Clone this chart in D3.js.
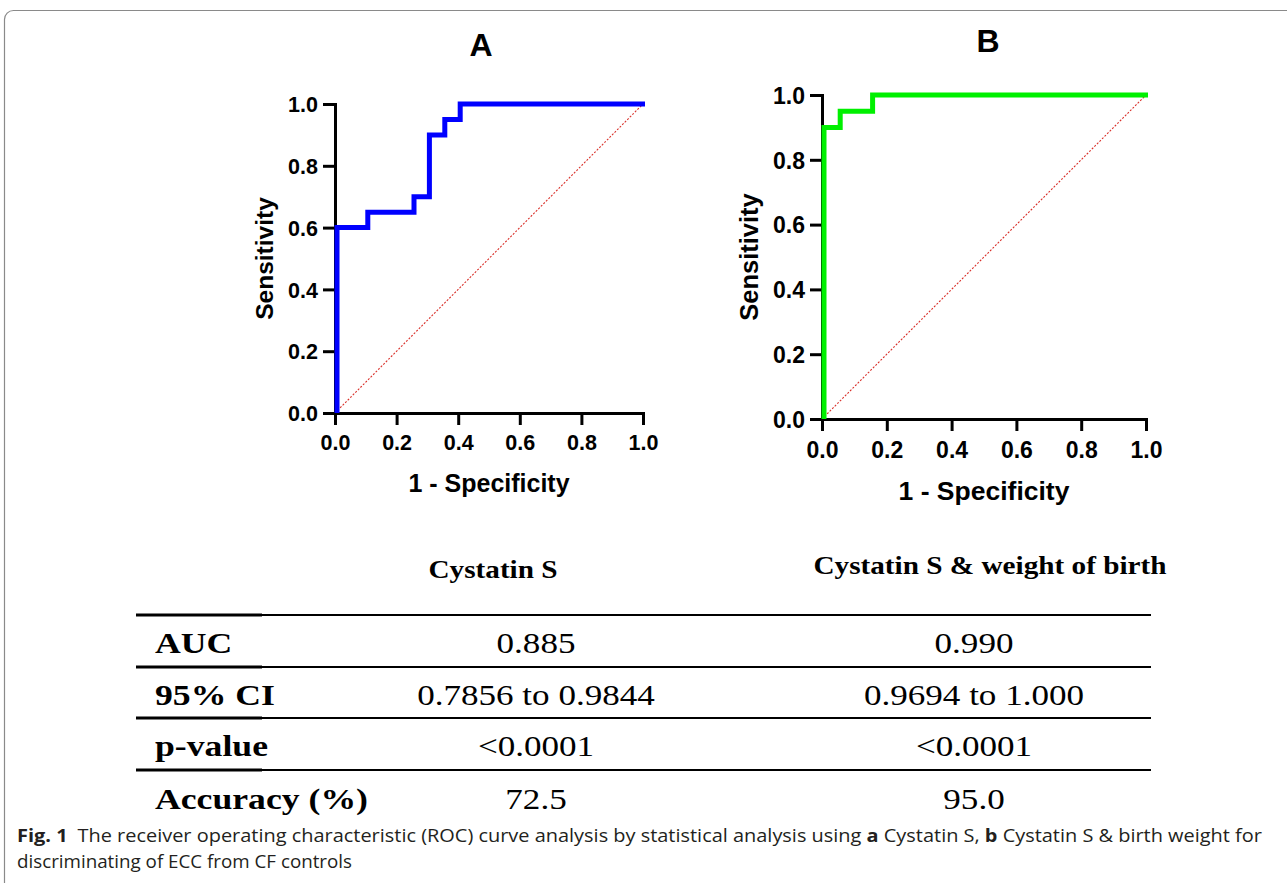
<!DOCTYPE html>
<html>
<head>
<meta charset="utf-8">
<script src="https://cdn.jsdelivr.net/npm/d3@7"></script>
<style>
  body { margin: 0; background: #fff; }
  svg { display: block; }
</style>
</head>
<body>
<svg id="fig" width="1287" height="883"></svg>
<script>
// ROC curve A: Cystatin S
const rocA_fpr = [0, 0, 0.1, 0.1, 0.25, 0.25, 0.3, 0.3, 0.35, 0.35, 0.4, 0.4, 1.0];
const rocA_tpr = [0, 0.6, 0.6, 0.65, 0.65, 0.7, 0.7, 0.9, 0.9, 0.95, 0.95, 1.0, 1.0];

// ROC curve B: Cystatin S & weight of birth
const rocB_fpr = [0, 0, 0.05, 0.05, 0.15, 0.15, 1.0];
const rocB_tpr = [0, 0.9, 0.9, 0.95, 0.95, 1.0, 1.0];

const tickValues = [0, 0.2, 0.4, 0.6, 0.8, 1.0];

// table
const tableHeaders = ["Cystatin S", "Cystatin S & weight of birth"];
const rowLabels = ["AUC", "95% CI", "p-value", "Accuracy (%)"];
const colA = ["0.885", "0.7856 to 0.9844", "<0.0001", "72.5"];
const colB = ["0.990", "0.9694 to 1.000", "<0.0001", "95.0"];

const svg = d3.select('#fig');

// figure frame
svg.append('rect')
  .attr('x', 4.5).attr('y', 10.5)
  .attr('width', 1300).attr('height', 900)
  .attr('rx', 9)
  .attr('fill', 'none')
  .attr('stroke', '#8a8a8a')
  .attr('stroke-width', 1.2);

function drawRoc(cfg) {
  const x = d3.scaleLinear().domain([0, 1]).range([cfg.left, cfg.right]);
  const y = d3.scaleLinear().domain([0, 1]).range([cfg.bottom, cfg.top]);
  const g = svg.append('g');

  // diagonal reference
  g.append('path')
    .datum([[0, 0], [1, 1]])
    .attr('d', d3.line().x(d => x(d[0])).y(d => y(d[1])))
    .attr('fill', 'none')
    .attr('stroke', '#d9302a')
    .attr('stroke-width', 1.1)
    .attr('stroke-dasharray', '2,1.6');

  const xAxis = g.append('g')
    .attr('transform', `translate(0, ${cfg.bottom})`)
    .call(d3.axisBottom(x).tickValues(tickValues).tickFormat(d3.format('.1f'))
      .tickSize(cfg.tick).tickPadding(cfg.xpad).tickSizeOuter(0));
  const yAxis = g.append('g')
    .attr('transform', `translate(${cfg.left}, 0)`)
    .call(d3.axisLeft(y).tickValues(tickValues).tickFormat(d3.format('.1f'))
      .tickSize(cfg.tick).tickPadding(cfg.ypad).tickSizeOuter(0));

  [xAxis, yAxis].forEach(a => {
    a.select('.domain').attr('stroke', '#000').attr('stroke-width', 3)
      .attr('stroke-linecap', 'square');
    a.selectAll('.tick line').attr('stroke', '#000').attr('stroke-width', 3);
    a.selectAll('.tick text')
      .attr('fill', '#000')
      .style('font-family', '"Liberation Sans", Arial, sans-serif')
      .style('font-weight', 'bold')
      .style('font-size', cfg.tickFont + 'px');
  });
  yAxis.selectAll('.tick text').attr('dy', '0.36em');

  // ROC curve
  const pts = cfg.fpr.map((f, i) => [f, cfg.tpr[i]]);
  g.append('path')
    .datum(pts)
    .attr('d', d3.line().x(d => x(d[0]) + 2).y(d => y(d[1])))
    .attr('fill', 'none')
    .attr('stroke', cfg.color)
    .attr('stroke-width', 5)
    .attr('stroke-linejoin', 'miter');

  // titles
  g.append('text')
    .attr('x', cfg.labelX).attr('y', cfg.labelY)
    .attr('text-anchor', 'middle')
    .style('font-family', '"Liberation Sans", Arial, sans-serif')
    .style('font-weight', 'bold')
    .style('font-size', '32px')
    .text(cfg.label);

  g.append('text')
    .attr('x', (cfg.left + cfg.right) / 2)
    .attr('y', cfg.xtY)
    .attr('text-anchor', 'middle')
    .style('font-family', '"Liberation Sans", Arial, sans-serif')
    .style('font-weight', 'bold')
    .style('font-size', cfg.titleFont + 'px')
    .text('1 - Specificity');

  g.append('text')
    .attr('transform', `translate(${cfg.ytX}, ${(cfg.top + cfg.bottom) / 2}) rotate(-90)`)
    .attr('text-anchor', 'middle')
    .style('font-family', '"Liberation Sans", Arial, sans-serif')
    .style('font-weight', 'bold')
    .style('font-size', cfg.ytFont + 'px')
    .text('Sensitivity');
}

drawRoc({
  fpr: rocA_fpr, tpr: rocA_tpr, color: '#0000ff', label: 'A',
  left: 335, right: 643, top: 104, bottom: 413,
  tick: 12, xpad: 10, ypad: 5, tickFont: 21.5, titleFont: 25, ytFont: 24.5,
  labelX: 481, labelY: 56, xtY: 492, ytX: 273
});

drawRoc({
  fpr: rocB_fpr, tpr: rocB_tpr, color: '#00f000', label: 'B',
  left: 822, right: 1146, top: 95, bottom: 419,
  tick: 12, xpad: 11, ypad: 5, tickFont: 23, titleFont: 26.5, ytFont: 25.5,
  labelX: 988, labelY: 52, xtY: 500, ytX: 758
});

// statistics table (the source figure's table text is horizontally stretched)
const serif = '"Liberation Serif", "Times New Roman", serif';
const tg = svg.append('g');
const colX = [536, 974];
const headerX = [493, 990];
const headerY = [578, 574];
const hStretch = 1.17;

function wideText(x, y, str, opts) {
  return tg.append('text')
    .attr('transform', `translate(${x}, ${y}) scale(${hStretch}, 1)`)
    .attr('text-anchor', opts.anchor || 'start')
    .style('font-family', serif)
    .style('font-weight', opts.bold ? 'bold' : 'normal')
    .style('font-size', opts.size + 'px')
    .text(str);
}

tableHeaders.forEach((h, i) => {
  wideText(headerX[i], headerY[i], h, { anchor: 'middle', bold: true, size: 25 });
});

const lineY = [615, 667, 718, 770];
lineY.forEach(ly => {
  tg.append('line')
    .attr('x1', 136).attr('x2', 1151)
    .attr('y1', ly).attr('y2', ly)
    .attr('stroke', '#000').attr('stroke-width', 2);
  tg.append('line')
    .attr('x1', 136).attr('x2', 262)
    .attr('y1', ly).attr('y2', ly)
    .attr('stroke', '#000').attr('stroke-width', 3);
});

const rowY = [653, 705, 756, 809];
rowLabels.forEach((r, i) => {
  wideText(155, rowY[i], r, { bold: true, size: 30.5 });
  [colA[i], colB[i]].forEach((v, j) => {
    wideText(colX[j], rowY[i], v, { anchor: 'middle', size: 30 });
  });
});

// caption
const cap = svg.append('g')
  .style('font-family', '"Open Sans", "Noto Sans", sans-serif')
  .style('font-size', '17.5px')
  .attr('fill', '#231f20');

const line1 = cap.append('text').attr('x', 17).attr('y', 842)
  .attr('textLength', 1245).attr('lengthAdjust', 'spacingAndGlyphs');
line1.append('tspan').style('font-weight', 'bold').text('Fig. 1');
line1.append('tspan').text('\u2002The receiver operating characteristic (ROC) curve analysis by statistical analysis using ');
line1.append('tspan').style('font-weight', 'bold').text('a');
line1.append('tspan').text(' Cystatin S, ');
line1.append('tspan').style('font-weight', 'bold').text('b');
line1.append('tspan').text(' Cystatin S & birth weight for');

cap.append('text').attr('x', 17).attr('y', 868)
  .attr('textLength', 335).attr('lengthAdjust', 'spacingAndGlyphs')
  .text('discriminating of ECC from CF controls');
</script>
</body>
</html>
